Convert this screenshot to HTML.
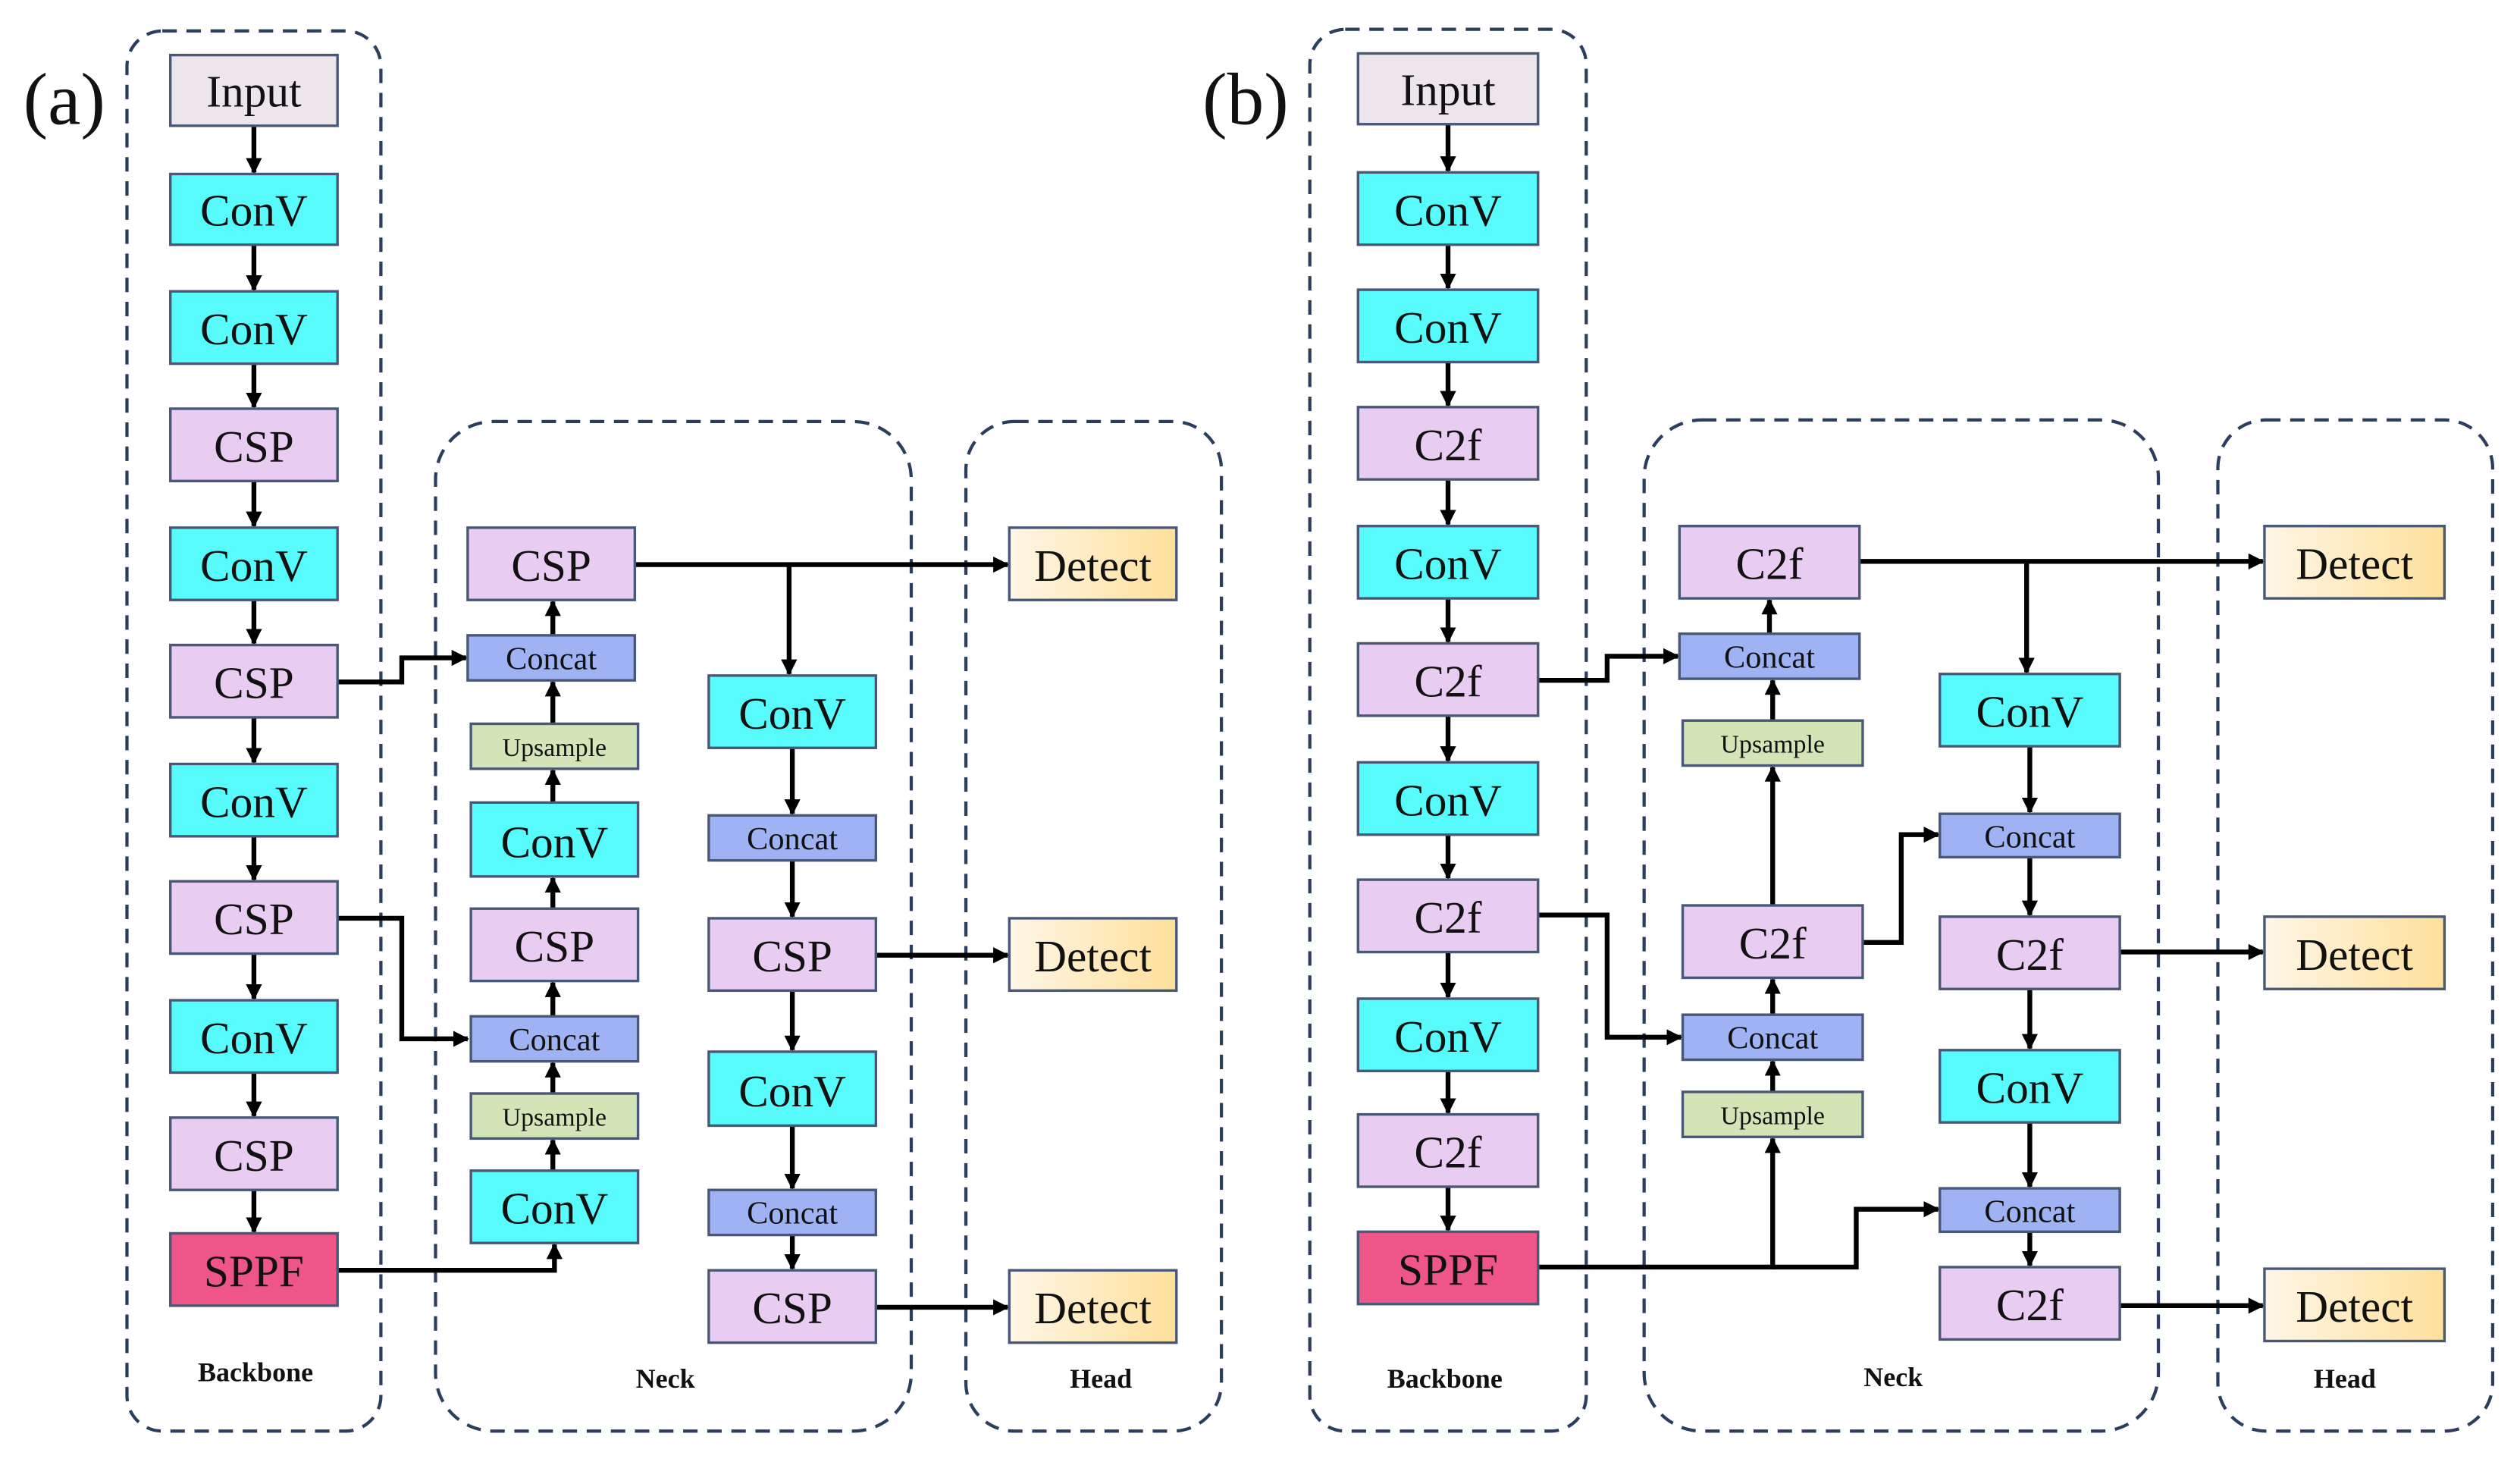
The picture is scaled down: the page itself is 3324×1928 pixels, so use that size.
<!DOCTYPE html>
<html><head><meta charset="utf-8"><style>
html,body{margin:0;padding:0;background:#fff;}
svg{display:block;}
.b{stroke:#4a5878;stroke-width:1.6;}
.d{fill:none;stroke:#2c3e5e;stroke-width:2;stroke-dasharray:9,6;}
.l{fill:none;stroke:#000;stroke-width:3;}
.cv{fill:#58fbfb}.cs{fill:#e8ccf2}.cc{fill:#9fb3f4}.up{fill:#d3e4b6}.in{fill:#ede5ec}.sp{fill:#ee5588}
</style></head><body>
<svg width="3324" height="1928" viewBox="0 0 1568 909" xmlns="http://www.w3.org/2000/svg" font-family="'Liberation Serif', 'DejaVu Serif', serif" fill="#111">
<defs>
<marker id="a" markerWidth="10" markerHeight="10" refX="9" refY="5" orient="auto" markerUnits="userSpaceOnUse"><path d="M0,0 L10,5 L0,10z" fill="#000"/></marker>
<linearGradient id="g" x1="0" y1="0" x2="1" y2="0"><stop offset="0" stop-color="#fff6e6"/><stop offset="1" stop-color="#fde09a"/></linearGradient>
</defs>
<text x="40" y="77" font-size="46" text-anchor="middle" font-family="'Liberation Serif', serif">(a)</text>
<text x="775" y="77" font-size="46" text-anchor="middle" font-family="'Liberation Serif', serif">(b)</text>
<rect class="d" x="79" y="19" width="158" height="871" rx="22"/>
<rect class="d" x="271" y="262" width="296" height="628" rx="36"/>
<rect class="d" x="601" y="262" width="159" height="628" rx="30"/>
<rect class="d" x="815" y="18" width="172" height="872" rx="22"/>
<rect class="d" x="1023" y="261" width="320" height="629" rx="36"/>
<rect class="d" x="1380" y="261" width="171" height="629" rx="30"/>
<g font-size="17" font-weight="bold" text-anchor="middle" font-family="'Liberation Serif', serif">
<text x="159" y="859">Backbone</text><text x="414" y="863">Neck</text><text x="685" y="863">Head</text>
<text x="899" y="863">Backbone</text><text x="1178" y="862">Neck</text><text x="1459" y="863">Head</text>
</g>
<g class="l" marker-end="url(#a)">
<path d="M158,78V107"/><path d="M158,152V180"/><path d="M158,226V253"/><path d="M158,299V327"/><path d="M158,373V400"/><path d="M158,446V474"/><path d="M158,520V547"/><path d="M158,593V621"/><path d="M158,667V694"/><path d="M158,740V766"/>
<path d="M210,424H250V409H290"/><path d="M210,571H250V646H291"/><path d="M210,790H345V774"/>
<path d="M344,395V374"/><path d="M344,450V424"/><path d="M344,499V479"/><path d="M344,565V546"/><path d="M344,632V611"/><path d="M344,680V661"/><path d="M344,728V709"/>
<path d="M395,351H627"/><path d="M491,351V419"/>
<path d="M493,465V506"/><path d="M493,535V570"/><path d="M493,616V653"/><path d="M493,700V739"/><path d="M493,768V789"/>
<path d="M545,594H627"/><path d="M545,813H627"/>
</g>
<g class="l" marker-end="url(#a)">
<path d="M901,77V106"/><path d="M901,152V179"/><path d="M901,225V252"/><path d="M901,298V326"/><path d="M901,372V399"/><path d="M901,445V473"/><path d="M901,519V546"/><path d="M901,592V620"/><path d="M901,666V692"/><path d="M901,738V765"/>
<path d="M957,423H1000V408H1044"/><path d="M957,569H1000V645H1046"/>
<path d="M957,788H1103V708"/><path d="M1103,788H1155V752H1206"/>
<path d="M1101,394V373"/><path d="M1103,448V423"/><path d="M1103,563V477"/><path d="M1103,631V609"/><path d="M1103,679V660"/>
<path d="M1159,586H1183V519H1206"/>
<path d="M1157,349H1408"/><path d="M1261,349V418"/>
<path d="M1263,464V505"/><path d="M1263,533V569"/><path d="M1263,615V652"/><path d="M1263,698V738"/><path d="M1263,766V787"/>
<path d="M1319,592H1408"/><path d="M1319,812H1408"/>
</g>
<g class="b">
<rect class="in" x="106" y="34" width="104" height="44"/>
<rect class="cv" x="106" y="108" width="104" height="44"/>
<rect class="cv" x="106" y="181" width="104" height="45"/>
<rect class="cs" x="106" y="254" width="104" height="45"/>
<rect class="cv" x="106" y="328" width="104" height="45"/>
<rect class="cs" x="106" y="401" width="104" height="45"/>
<rect class="cv" x="106" y="475" width="104" height="45"/>
<rect class="cs" x="106" y="548" width="104" height="45"/>
<rect class="cv" x="106" y="622" width="104" height="45"/>
<rect class="cs" x="106" y="695" width="104" height="45"/>
<rect class="sp" x="106" y="767" width="104" height="45"/>
<rect class="cs" x="291" y="328" width="104" height="45"/>
<rect class="cc" x="291" y="395" width="104" height="28"/>
<rect class="up" x="293" y="450" width="104" height="28"/>
<rect class="cv" x="293" y="499" width="104" height="46"/>
<rect class="cs" x="293" y="565" width="104" height="45"/>
<rect class="cc" x="293" y="632" width="104" height="28"/>
<rect class="up" x="293" y="680" width="104" height="28"/>
<rect class="cv" x="293" y="728" width="104" height="45"/>
<rect class="cv" x="441" y="420" width="104" height="45"/>
<rect class="cc" x="441" y="507" width="104" height="28"/>
<rect class="cs" x="441" y="571" width="104" height="45"/>
<rect class="cv" x="441" y="654" width="104" height="46"/>
<rect class="cc" x="441" y="740" width="104" height="28"/>
<rect class="cs" x="441" y="790" width="104" height="45"/>
<rect fill="url(#g)" x="628" y="328" width="104" height="45"/>
<rect fill="url(#g)" x="628" y="571" width="104" height="45"/>
<rect fill="url(#g)" x="628" y="790" width="104" height="45"/>
</g>
<g class="b">
<rect class="in" x="845" y="33" width="112" height="44"/>
<rect class="cv" x="845" y="107" width="112" height="45"/>
<rect class="cv" x="845" y="180" width="112" height="45"/>
<rect class="cs" x="845" y="253" width="112" height="45"/>
<rect class="cv" x="845" y="327" width="112" height="45"/>
<rect class="cs" x="845" y="400" width="112" height="45"/>
<rect class="cv" x="845" y="474" width="112" height="45"/>
<rect class="cs" x="845" y="547" width="112" height="45"/>
<rect class="cv" x="845" y="621" width="112" height="45"/>
<rect class="cs" x="845" y="693" width="112" height="45"/>
<rect class="sp" x="845" y="766" width="112" height="45"/>
<rect class="cs" x="1045" y="327" width="112" height="45"/>
<rect class="cc" x="1045" y="394" width="112" height="28"/>
<rect class="up" x="1047" y="448" width="112" height="28"/>
<rect class="cs" x="1047" y="563" width="112" height="45"/>
<rect class="cc" x="1047" y="631" width="112" height="28"/>
<rect class="up" x="1047" y="679" width="112" height="28"/>
<rect class="cv" x="1207" y="419" width="112" height="45"/>
<rect class="cc" x="1207" y="506" width="112" height="27"/>
<rect class="cs" x="1207" y="570" width="112" height="45"/>
<rect class="cv" x="1207" y="653" width="112" height="45"/>
<rect class="cc" x="1207" y="739" width="112" height="27"/>
<rect class="cs" x="1207" y="788" width="112" height="45"/>
<rect fill="url(#g)" x="1409" y="327" width="112" height="45"/>
<rect fill="url(#g)" x="1409" y="570" width="112" height="45"/>
<rect fill="url(#g)" x="1409" y="789" width="112" height="45"/>
</g>
<g text-anchor="middle" font-size="28" font-family="'Liberation Serif', serif">
<text x="158" y="66">Input</text><text x="158" y="140">ConV</text><text x="158" y="214">ConV</text><text x="158" y="287">CSP</text><text x="158" y="361">ConV</text><text x="158" y="434">CSP</text><text x="158" y="508">ConV</text><text x="158" y="581">CSP</text><text x="158" y="655">ConV</text><text x="158" y="728">CSP</text><text x="158" y="800">SPPF</text>
<text x="343" y="361">CSP</text><text x="345" y="533">ConV</text><text x="345" y="598">CSP</text><text x="345" y="761">ConV</text>
<text x="493" y="453">ConV</text><text x="493" y="604">CSP</text><text x="493" y="688">ConV</text><text x="493" y="823">CSP</text>
<text x="680" y="361">Detect</text><text x="680" y="604">Detect</text><text x="680" y="823">Detect</text>
<text x="901" y="65">Input</text><text x="901" y="140">ConV</text><text x="901" y="213">ConV</text><text x="901" y="286">C2f</text><text x="901" y="360">ConV</text><text x="901" y="433">C2f</text><text x="901" y="507">ConV</text><text x="901" y="580">C2f</text><text x="901" y="654">ConV</text><text x="901" y="726">C2f</text><text x="901" y="799">SPPF</text>
<text x="1101" y="360">C2f</text><text x="1103" y="596">C2f</text>
<text x="1263" y="452">ConV</text><text x="1263" y="603">C2f</text><text x="1263" y="686">ConV</text><text x="1263" y="821">C2f</text>
<text x="1465" y="360">Detect</text><text x="1465" y="603">Detect</text><text x="1465" y="822">Detect</text>
</g>
<g text-anchor="middle" font-size="20" font-family="'Liberation Serif', serif">
<text x="343" y="416">Concat</text><text x="345" y="653">Concat</text><text x="493" y="528">Concat</text><text x="493" y="761">Concat</text>
<text x="1101" y="415">Concat</text><text x="1103" y="652">Concat</text><text x="1263" y="527">Concat</text><text x="1263" y="760">Concat</text>
</g>
<g text-anchor="middle" font-size="16" font-family="'Liberation Serif', serif">
<text x="345" y="470">Upsample</text><text x="345" y="700">Upsample</text>
<text x="1103" y="468">Upsample</text><text x="1103" y="699">Upsample</text>
</g>
</svg>
</body></html>
